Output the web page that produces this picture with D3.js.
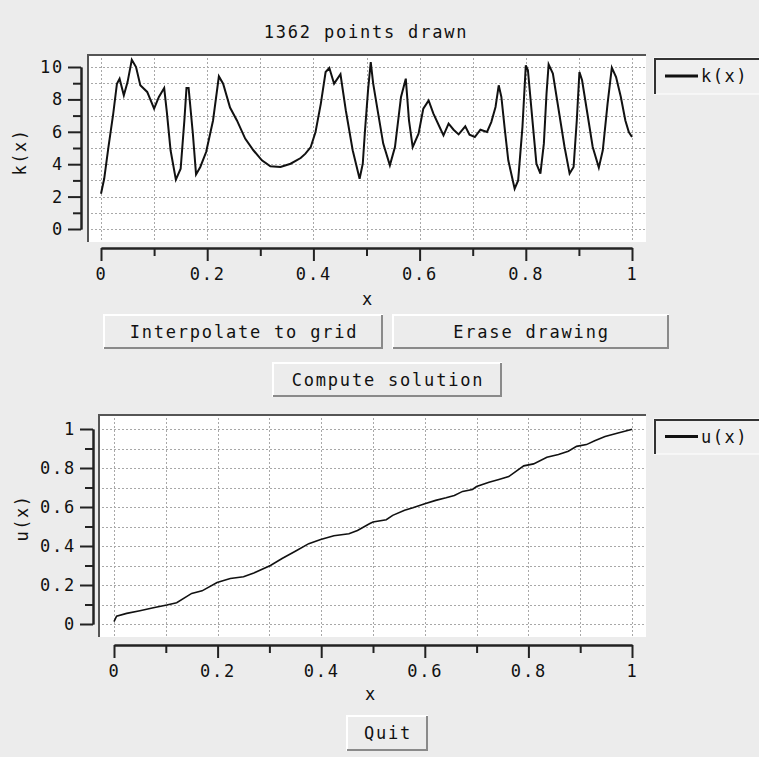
<!DOCTYPE html>
<html>
<head>
<meta charset="utf-8">
<script src="https://cdn.jsdelivr.net/npm/d3@7"></script>
<style>
  body { margin: 0; background: #ececec; }
  text { font-family: "DejaVu Sans Mono", monospace; fill: #111; }
  .tick text { font-size: 17px; letter-spacing: 1.8px; }
  .btn text { font-size: 17px; letter-spacing: 1.8px; }
</style>
</head>
<body>
<script>
// k(x) as drawn by hand
var kX = [0, 0.006, 0.014, 0.023, 0.030, 0.035, 0.043, 0.050, 0.058, 0.066, 0.074, 0.087, 0.100, 0.109, 0.119, 0.124,
  0.131, 0.141, 0.150, 0.157, 0.161, 0.165, 0.173, 0.179, 0.187, 0.198, 0.211, 0.222, 0.230, 0.243, 0.256, 0.2715,
  0.287, 0.303, 0.319, 0.338, 0.357, 0.376, 0.385, 0.395, 0.404, 0.414, 0.423, 0.430, 0.439, 0.451, 0.461, 0.474,
  0.487, 0.493, 0.497, 0.503, 0.508, 0.5126, 0.522, 0.5315, 0.544, 0.5536, 0.565, 0.574, 0.580, 0.587, 0.598, 0.607,
  0.617, 0.626, 0.637, 0.645, 0.6546, 0.664, 0.6735, 0.686, 0.694, 0.704, 0.7145, 0.727, 0.735, 0.743, 0.749, 0.754,
  0.7606, 0.767, 0.779, 0.7856, 0.7937, 0.800, 0.804, 0.8125, 0.820, 0.8275, 0.834, 0.839, 0.843, 0.851, 0.861, 0.873,
  0.8825, 0.890, 0.896, 0.901, 0.906, 0.915, 0.926, 0.9375, 0.945, 0.954, 0.962, 0.970, 0.979, 0.9875, 0.994, 1.0];
var kY = [2.18, 3.1, 5.06, 7.1, 8.97, 9.28, 8.25, 9.07, 10.45, 10.0, 8.87, 8.46, 7.43, 8.15, 8.7, 7.22,
  4.86, 3.05, 3.72, 6.7, 8.7, 8.7, 5.88, 3.37, 3.83, 4.75, 6.7, 9.42, 8.97, 7.5, 6.7, 5.58,
  4.86, 4.24, 3.87, 3.83, 4.03, 4.38, 4.65, 5.06, 5.99, 7.74, 9.69, 9.94, 8.97, 9.55, 7.33, 4.86,
  3.1, 4.03, 6.0, 8.6, 10.3, 8.97, 7.12, 5.27, 3.93, 5.06, 8.15, 9.28, 6.7, 5.06, 5.88, 7.43,
  7.94, 7.12, 6.34, 5.78, 6.5, 6.13, 5.84, 6.34, 5.82, 5.68, 6.13, 5.99, 6.6, 7.53, 8.87, 8.15,
  6.1, 4.24, 2.49, 3.0, 6.3, 10.1, 9.8, 6.7, 4.03, 3.42, 5.27, 8.35, 10.16, 9.6, 7.53, 5.06,
  3.42, 3.83, 6.7, 9.69, 9.18, 7.33, 5.06, 3.79, 4.86, 7.74, 9.96, 9.38, 8.15, 6.7, 5.99, 5.68];

// u(x) solution
var uX = [0, 0.005, 0.0245, 0.05, 0.076, 0.102, 0.121, 0.150, 0.170, 0.199, 0.2245, 0.250, 0.270, 0.302, 0.3245,
  0.350, 0.376, 0.399, 0.4245, 0.4535, 0.470, 0.494, 0.500, 0.5256, 0.538, 0.561, 0.577, 0.600, 0.621, 0.641, 0.657,
  0.673, 0.692, 0.700, 0.724, 0.743, 0.762, 0.778, 0.791, 0.810, 0.8357, 0.858, 0.877, 0.893, 0.912, 0.928, 0.948,
  0.973, 0.9987, 1.0];
var uY = [0.012, 0.04, 0.0545, 0.068, 0.083, 0.097, 0.109, 0.157, 0.170, 0.213, 0.233, 0.242, 0.262, 0.300, 0.336,
  0.373, 0.412, 0.433, 0.453, 0.463, 0.480, 0.515, 0.523, 0.535, 0.557, 0.583, 0.596, 0.617, 0.634, 0.647, 0.659,
  0.680, 0.690, 0.705, 0.727, 0.741, 0.756, 0.787, 0.811, 0.821, 0.855, 0.869, 0.886, 0.911, 0.920, 0.940, 0.961,
  0.980, 0.997, 1.0];

var xMajor = [0, 0.2, 0.4, 0.6, 0.8, 1];
var xMinor = [0.1, 0.3, 0.5, 0.7, 0.9];
var xGrid = d3.range(0, 11).map(function(i) { return i / 10; });
var kMajor = [0, 2, 4, 6, 8, 10];
var kMinor = [1, 3, 5, 7, 9];
var kGrid = d3.range(0, 11);
var uMajor = [0, 0.2, 0.4, 0.6, 0.8, 1];
var uMinor = [0.1, 0.3, 0.5, 0.7, 0.9];
var uGrid = xGrid;

var W = 759, H = 757;
var svg = d3.select("body").append("svg")
  .attr("width", W)
  .attr("height", H);

svg.append("rect").attr("width", W).attr("height", H).attr("fill", "#ececec");

function fmt(d) { return d3.format("~g")(d); }

function plot(cfg) {
  var x = d3.scaleLinear().domain([0, 1]).range(cfg.xr);
  var y = d3.scaleLinear().domain(cfg.yd).range(cfg.yr);
  var a = cfg.area;

  // plotting area, sunken
  svg.append("rect")
    .attr("x", a[0]).attr("y", a[1])
    .attr("width", a[2] - a[0]).attr("height", a[3] - a[1])
    .attr("fill", "#fff");

  var grid = svg.append("g").attr("stroke", "#a8a8a8").attr("stroke-width", 1)
    .attr("stroke-dasharray", "2,2");
  grid.selectAll(".vx").data(xGrid).enter().append("line")
    .attr("x1", function(d) { return Math.round(x(d)) + 0.5; })
    .attr("x2", function(d) { return Math.round(x(d)) + 0.5; })
    .attr("y1", a[1]).attr("y2", a[3]);
  grid.selectAll(".hy").data(cfg.grid).enter().append("line")
    .attr("y1", function(d) { return Math.round(y(d)) + 0.5; })
    .attr("y2", function(d) { return Math.round(y(d)) + 0.5; })
    .attr("x1", a[0]).attr("x2", a[2]);

  svg.append("path")
    .attr("d", "M" + (a[0] + 1) + "," + a[3] + "V" + (a[1] + 1) + "H" + a[2])
    .attr("fill", "none").attr("stroke", "#555").attr("stroke-width", 2);

  var line = d3.line()
    .x(function(d) { return x(d[0]); })
    .y(function(d) { return y(d[1]); });
  svg.append("path")
    .datum(d3.zip(cfg.px, cfg.py))
    .attr("d", line)
    .attr("fill", "none")
    .attr("stroke", "#111")
    .attr("stroke-width", cfg.lw);

  // x axis, below the area
  var gx = svg.append("g").attr("transform", "translate(0," + cfg.xAxisY + ")");
  gx.call(d3.axisBottom(x).tickValues(xMajor).tickSize(13).tickSizeOuter(0).tickPadding(7).tickFormat(fmt));
  gx.append("g").call(d3.axisBottom(x).tickValues(xMinor).tickSize(8).tickSizeOuter(0).tickFormat(""));

  // y axis, left of the area
  var gy = svg.append("g").attr("transform", "translate(" + cfg.yAxisX + ",0)");
  gy.call(d3.axisLeft(y).tickValues(cfg.major).tickSize(13).tickSizeOuter(0).tickPadding(4).tickFormat(fmt));
  gy.append("g").call(d3.axisLeft(y).tickValues(cfg.minor).tickSize(8).tickSizeOuter(0).tickFormat(""));

  svg.selectAll(".domain").attr("stroke", "#222").attr("stroke-width", 2);
  svg.selectAll(".tick line").attr("stroke", "#222").attr("stroke-width", 2);
  svg.selectAll(".tick text").attr("fill", "#111");

  svg.append("text")
    .attr("x", cfg.xLab[0]).attr("y", cfg.xLab[1])
    .attr("text-anchor", "middle").style("font-size", "17px")
    .text("x");
  svg.append("text")
    .attr("transform", "translate(" + cfg.yLab[0] + "," + cfg.yLab[1] + ") rotate(-90)")
    .attr("text-anchor", "middle").style("font-size", "17px").style("letter-spacing", "1.5px")
    .text(cfg.name);

  // legend box, sunken
  var l = cfg.legend;
  svg.append("rect").attr("x", l[0]).attr("y", l[1]).attr("width", 120).attr("height", l[2] - l[1])
    .attr("fill", "#efefef").attr("stroke", "#fff").attr("stroke-width", 1);
  svg.append("path")
    .attr("d", "M" + (l[0] + 1) + "," + l[2] + "V" + (l[1] + 1) + "H" + W)
    .attr("fill", "none").attr("stroke", "#333").attr("stroke-width", 2);
  var ly = (l[1] + l[2]) / 2;
  svg.append("line").attr("x1", l[0] + 11).attr("x2", l[0] + 44)
    .attr("y1", ly).attr("y2", ly).attr("stroke", "#111").attr("stroke-width", 3);
  svg.append("text").attr("x", l[0] + 47).attr("y", ly + 6)
    .style("font-size", "17px").style("letter-spacing", "1.5px")
    .text(cfg.name);
}

svg.append("text")
  .attr("x", 366).attr("y", 38)
  .attr("text-anchor", "middle").style("font-size", "17px").style("letter-spacing", "1.8px")
  .text("1362 points drawn");

plot({
  name: "k(x)", px: kX, py: kY, lw: 2,
  xr: [101, 632], yd: [0, 10], yr: [229, 67],
  area: [87, 54, 646, 242],
  xAxisY: 248, yAxisX: 81,
  major: kMajor, minor: kMinor, grid: kGrid,
  xLab: [367, 305], yLab: [26, 152],
  legend: [654, 58, 94]
});

plot({
  name: "u(x)", px: uX, py: uY, lw: 1.6,
  xr: [114, 632], yd: [0, 1], yr: [624, 429],
  area: [98, 414, 646, 637],
  xAxisY: 645, yAxisX: 93,
  major: uMajor, minor: uMinor, grid: uGrid,
  xLab: [370, 700], yLab: [28, 518],
  legend: [654, 419, 454]
});

// buttons
var buttons = [
  {label: "Interpolate to grid", x: 103, y: 314, w: 280, h: 35},
  {label: "Erase drawing", x: 392, y: 314, w: 277, h: 35},
  {label: "Compute solution", x: 272, y: 362, w: 230, h: 35},
  {label: "Quit", x: 346, y: 715, w: 82, h: 36}
];
var b = svg.selectAll(".btn").data(buttons).enter().append("g").attr("class", "btn");
b.append("rect")
  .attr("x", function(d) { return d.x; }).attr("y", function(d) { return d.y; })
  .attr("width", function(d) { return d.w; }).attr("height", function(d) { return d.h; })
  .attr("fill", "#ececec");
b.append("path")
  .attr("d", function(d) { return "M" + (d.x + 1) + "," + (d.y + d.h) + "V" + (d.y + 1) + "H" + (d.x + d.w); })
  .attr("fill", "none").attr("stroke", "#fff").attr("stroke-width", 2);
b.append("path")
  .attr("d", function(d) { return "M" + (d.x + 1) + "," + (d.y + d.h - 1) + "H" + (d.x + d.w - 1) + "V" + (d.y + 1); })
  .attr("fill", "none").attr("stroke", "#8a8a8a").attr("stroke-width", 2);
b.append("text")
  .attr("x", function(d) { return d.x + d.w / 2 + 1; })
  .attr("y", function(d) { return d.y + d.h / 2 + 6; })
  .attr("text-anchor", "middle")
  .text(function(d) { return d.label; });
</script>
</body>
</html>
